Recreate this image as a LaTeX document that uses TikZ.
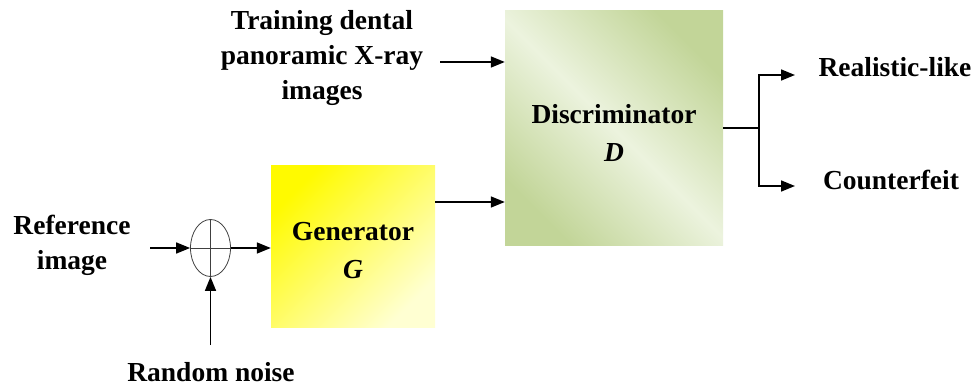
\documentclass[tikz,border=0pt]{standalone}
\usepackage{fontspec}
\setmainfont{Liberation Serif}
\usetikzlibrary{arrows.meta,shapes.geometric}
\definecolor{dgreen}{RGB}{194,213,152}
\definecolor{lgreen}{RGB}{236,243,222}
\definecolor{gyellow}{RGB}{255,250,0}
\definecolor{lyellow}{RGB}{255,255,210}
\begin{document}
\begin{tikzpicture}[x=1pt,y=-1pt,
  lbl/.style={font=\fontsize{27.5}{35}\selectfont\bfseries, align=center, inner sep=0pt},
  conn/.style={line width=1.6pt, -{Triangle[length=14pt,width=11pt]}},
  wire/.style={line width=1.6pt}]
\useasboundingbox (0,0) rectangle (978,390);
% boxes
\node[draw=none, minimum width=164pt, minimum height=162pt, inner sep=0pt,
  shading=axis, top color=gyellow, bottom color=lyellow, shading angle=45] (gen) at (353,247) {};
\node[draw=none, minimum width=218pt, minimum height=235pt, inner sep=0pt,
  left color=dgreen, right color=dgreen, middle color=lgreen, shading angle=135] (dis) at (614,128.5) {};
\node[lbl, font=\fontsize{27.5}{38}\selectfont\bfseries] (gent) at (353,251) {Generator\\\textit{G}};
\node[lbl, font=\fontsize{27.5}{38}\selectfont\bfseries] (dist) at (614,133) {Discriminator\\\textit{D}};
% summing junction
\node[ellipse, draw=black!75, line width=0.8pt, minimum width=40pt, minimum height=57pt, inner sep=0pt] (sum) at (210.5,248) {};
\draw[black!75, line width=0.8pt] (sum.north) -- (sum.south) (sum.west) -- (sum.east);
% labels
\node[lbl] (ref) at (72,245) {Reference\\image};
\node[lbl] (noise) at (211,372) {Random noise};
\node[lbl] (train) at (322,58) {Training dental\\panoramic X-ray\\images};
\node[lbl] (real) at (895,67) {Realistic-like};
\node[lbl] (fake) at (891,180) {Counterfeit};
% connectors
\coordinate (refend) at (150,248);
\coordinate (noiseend) at (210.5,345);
\coordinate (trainend) at (440,62);
\draw[conn] (refend) -- (sum.west);
\draw[conn] (sum.east) -- (sum.east -| gen.west);
\draw[conn] (noiseend) -- (sum.south);
\coordinate (gout) at (435,202);
\draw[conn] (gout) -- (gout -| dis.west);
\draw[conn] (trainend) -- (trainend -| dis.west);
\coordinate (dout) at (723,128);
\coordinate (split) at (759,128);
\coordinate (up) at (759,75);
\coordinate (dn) at (759,186);
\draw[wire] (dout) -- (split);
\draw[conn] (split) -- (up) -- (795,75);
\draw[conn] (split) -- (dn) -- (795,186);
\end{tikzpicture}
\end{document}
